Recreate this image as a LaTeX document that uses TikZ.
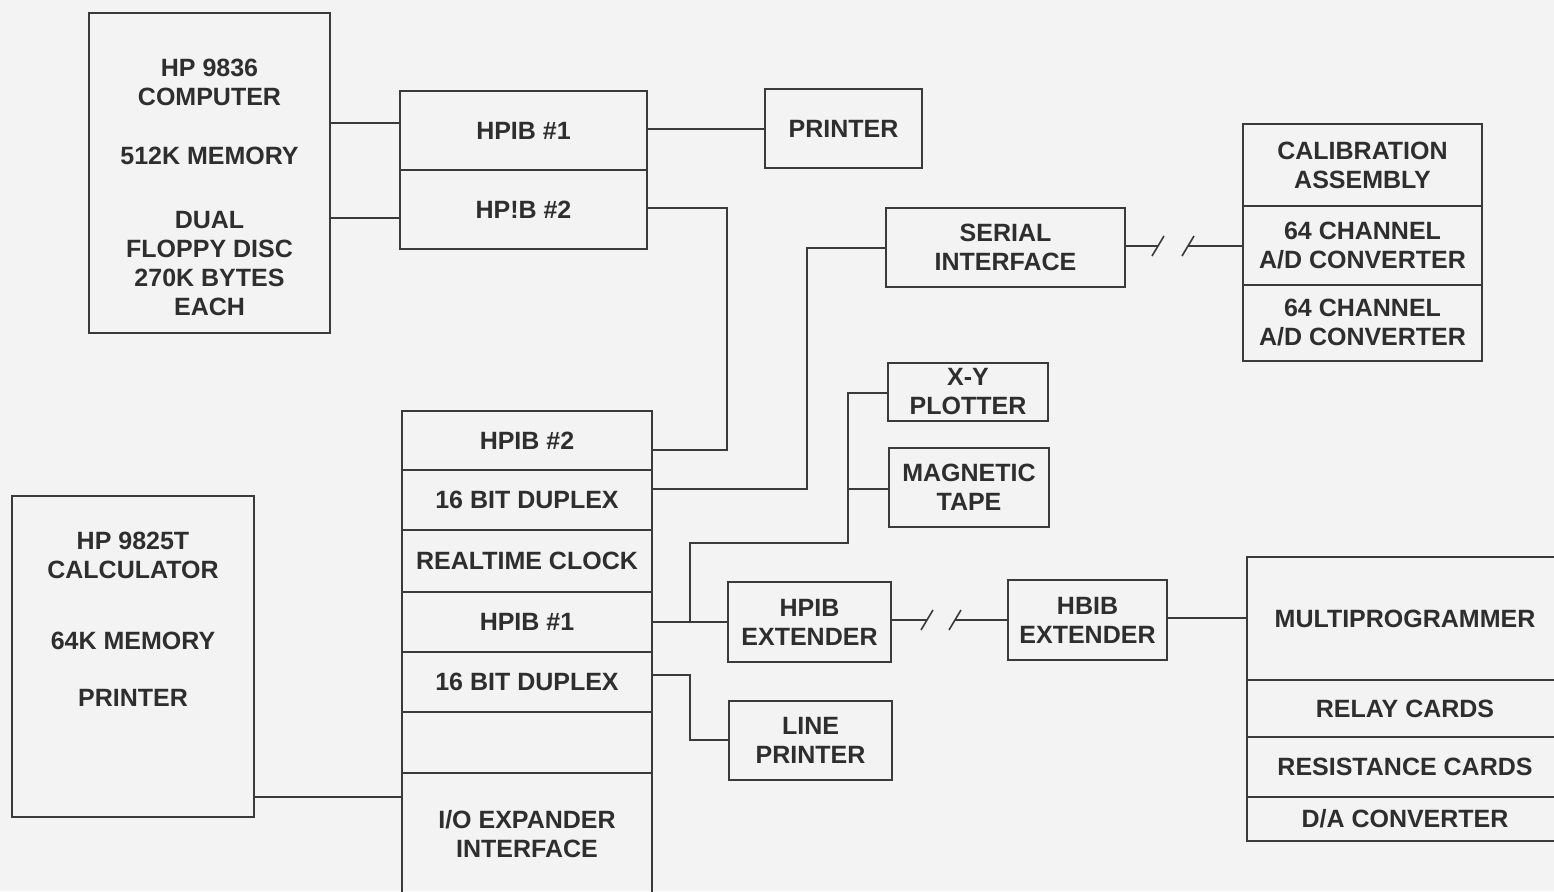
\documentclass[tikz,border=0pt]{standalone}
\usepackage{fontspec}
\setmainfont{Liberation Sans}
\definecolor{bgc}{HTML}{F3F3F3}
\definecolor{linec}{HTML}{3A3A3A}
\definecolor{textc}{HTML}{2E2E2E}
\newcommand\lbl{\fontsize{12.5}{14.5}\selectfont\bfseries}
\tikzset{
  box/.style={draw=linec, line width=1.1pt, inner sep=0pt, align=center, font=\lbl, text=textc},
  txt/.style={inner sep=0pt, align=center, font=\lbl, text=textc},
  wire/.style={draw=linec, line width=0.8pt}
}
\begin{document}
\begin{tikzpicture}[x=0.5pt,y=-0.5pt]
\fill[bgc] (0,0) rectangle (1554,891);
\useasboundingbox (0,0) rectangle (1554,891);

% computer
\node[box, minimum width=120.5pt, minimum height=160pt] (comp) at (209.5,173) {};
\node[txt] (comptext) at (209.5,187.5) {HP 9836\\COMPUTER\\[15pt]512K MEMORY\\[17.5pt]DUAL\\FLOPPY DISC\\270K BYTES\\EACH};

% upper HPIB stack
\node[box, minimum width=123.5pt, minimum height=39.5pt] (u1) at (523.5,130.5) {HPIB \#1};
\node[box, minimum width=123.5pt, minimum height=39.5pt] (u2) at (523.5,209.5) {HP!B \#2};

\node[box, minimum width=78.5pt, minimum height=39.5pt] (printer) at (843.5,128.5) {PRINTER};
\node[box, minimum width=119.5pt, minimum height=39.5pt] (serial) at (1005.5,247.5) {SERIAL\\INTERFACE};

% calibration stack
\node[box, minimum width=119.5pt, minimum height=41pt] (cal1) at (1362.5,165) {CALIBRATION\\ASSEMBLY};
\node[box, minimum width=119.5pt, minimum height=39.5pt] (cal2) at (1362.5,245.5) {64 CHANNEL\\A/D CONVERTER};
\node[box, minimum width=119.5pt, minimum height=38pt] (cal3) at (1362.5,323) {64 CHANNEL\\A/D CONVERTER};

\node[box, minimum width=80pt, minimum height=29pt] (xy) at (968,392) {X-Y\\PLOTTER};
\node[box, minimum width=80pt, minimum height=39.5pt] (tape) at (969,487.5) {MAGNETIC\\TAPE};

% lower stack
\node[box, minimum width=125pt, minimum height=29.5pt] (l1) at (527,440.5) {HPIB \#2};
\node[box, minimum width=125pt, minimum height=30pt] (l2) at (527,500) {16 BIT DUPLEX};
\node[box, minimum width=125pt, minimum height=31pt] (l3) at (527,561) {REALTIME CLOCK};
\node[box, minimum width=125pt, minimum height=30pt] (l4) at (527,622) {HPIB \#1};
\node[box, minimum width=125pt, minimum height=30pt] (l5) at (527,682) {16 BIT DUPLEX};
\node[box, minimum width=125pt, minimum height=30.5pt] (l6) at (527,742.5) {};
\node[box, minimum width=125pt, minimum height=61pt] (l7) at (527,834) {I/O EXPANDER\\INTERFACE};

\node[box, minimum width=81.5pt, minimum height=40pt] (hpx) at (809.5,622) {HPIB\\EXTENDER};
\node[box, minimum width=79.5pt, minimum height=40pt] (hbx) at (1087.5,620) {HBIB\\EXTENDER};
\node[box, minimum width=81.5pt, minimum height=39.5pt] (lp) at (810.5,740.5) {LINE\\PRINTER};

% multiprogrammer stack
\node[box, minimum width=158pt, minimum height=61.5pt] (mp1) at (1405,618.5) {MULTIPROGRAMMER};
\node[box, minimum width=158pt, minimum height=28.5pt] (mp2) at (1405,708.5) {RELAY CARDS};
\node[box, minimum width=158pt, minimum height=30pt] (mp3) at (1405,767) {RESISTANCE CARDS};
\node[box, minimum width=158pt, minimum height=22pt] (mp4) at (1405,819) {D/A CONVERTER};

% calculator
\node[box, minimum width=121pt, minimum height=160.5pt] (calc) at (133,656.5) {};
\node[txt] (calctext) at (133,619.5) {HP 9825T\\CALCULATOR\\[21pt]64K MEMORY\\[14pt]PRINTER};

% connectors
\draw[wire] (comp.east |- 0,123) -- (u1.west |- 0,123);
\draw[wire] (comp.east |- 0,218) -- (u2.west |- 0,218);
\draw[wire] (u1.east |- 0,129) -- (printer.west |- 0,129);
\draw[wire] (u2.east |- 0,208) -- (727,208) -- (727,450) -- (l1.east |- 0,450);
\draw[wire] (l2.east |- 0,489) -- (807,489) -- (807,248) -- (serial.west |- 0,248);

\draw[wire] (serial.east |- 0,246) -- (1158,246);
\draw[wire] (1152,256) -- (1164,236);
\draw[wire] (1182,256) -- (1194,236);
\draw[wire] (1188,246) -- (cal2.west |- 0,246);

\draw[wire] (l4.east |- 0,622) -- (hpx.west |- 0,622);
\draw[wire] (690,622) -- (690,543) -- (848,543) -- (848,393) -- (xy.west |- 0,393);
\draw[wire] (848,489) -- (tape.west |- 0,489);
\draw[wire] (l5.east |- 0,675) -- (690,675) -- (690,740) -- (lp.west |- 0,740);

\draw[wire] (hpx.east |- 0,620) -- (927,620);
\draw[wire] (921,630) -- (933,610);
\draw[wire] (949,630) -- (961,610);
\draw[wire] (955,620) -- (hbx.west |- 0,620);

\draw[wire] (hbx.east |- 0,618) -- (mp1.west |- 0,618);
\draw[wire] (calc.east |- 0,797) -- (l7.west |- 0,797);
\end{tikzpicture}
\end{document}
